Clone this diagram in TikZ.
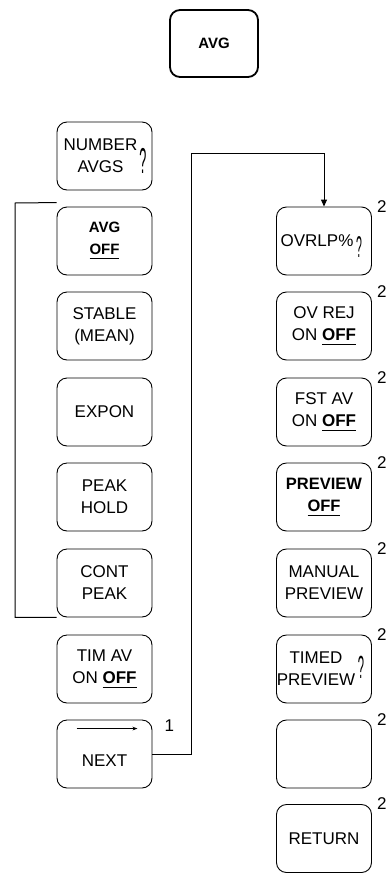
\documentclass[tikz,border=0pt]{standalone}
\usepackage{fontspec}
\usepackage{graphicx}
\setmainfont{Liberation Sans}
\usetikzlibrary{arrows.meta}

% underlined setting on a softkey
\newsavebox{\offbox}
\newcommand{\selected}[1]{\sbox{\offbox}{#1}\rlap{\usebox{\offbox}}\rule[-4.5pt]{\wd\offbox}{1.3pt}}
% hand drawn question mark
\newcommand{\tallq}[1]{\scalebox{0.35}[1]{\fontsize{#1}{#1}\selectfont ?}}

\tikzset{
	softkey/.style={draw, line width=0.9pt, rounded corners=10pt, minimum width=95pt, minimum height=68pt,
		align=center, inner sep=0pt, font=\fontsize{17}{22}\selectfont},
	boldkey/.style={softkey, font=\bfseries\fontsize{15}{22}\selectfont},
	keynote/.style={anchor=west, inner sep=0pt, font=\fontsize{17}{17}\selectfont},
	hookq/.style={inner sep=0pt},
}

\begin{document}
\begin{tikzpicture}[x=1pt, y=-1pt]
		\useasboundingbox (0,0) rectangle (388,873);

		% Hardkey
		\node[draw, line width=1.8pt, rounded corners=10pt, minimum width=88pt, minimum height=67pt,
			font=\bfseries\fontsize{15}{15}\selectfont] (avg) at (214,43.5) {AVG};

		% First menu
		\node[softkey] (number) at (104.5,156) {NUMBER\hspace*{8pt}\\AVGS\hspace*{8pt}};
		\node[boldkey] (avgoff) at (104.5,241) {AVG\\\selected{OFF}};
		\node[softkey] (stable) at (104.5,326) {STABLE\\(MEAN)};
		\node[softkey] (expon) at (104.5,412) {EXPON};
		\node[softkey] (peak) at (104.5,497) {PEAK\\HOLD};
		\node[softkey] (cont) at (104.5,583) {CONT\\PEAK};
		\node[softkey] (timav) at (104.5,669) {TIM AV\\ON \selected{\textbf{OFF}}};
		\node[softkey] (next) at (104.5,754) {};
		\node[inner sep=0pt, font=\fontsize{17}{22}\selectfont] (nexttext) at ([yshift=-7pt]next.center) {NEXT};
		\draw[line width=0.8pt, -{Stealth[length=5pt]}] ([xshift=20pt,yshift=-9pt]next.north west) -- ([xshift=-15pt,yshift=-9pt]next.north east);
		\node[keynote] (one) at ([xshift=12pt,yshift=-6pt]next.north east) {1};

		% Second menu
		\node[softkey] (ovrlp) at (324,241) {OVRLP\%\hspace*{14pt}};
		\node[softkey] (ovrej) at (324,326) {OV REJ\\ON \selected{\textbf{OFF}}};
		\node[softkey] (fstav) at (324,412) {FST AV\\ON \selected{\textbf{OFF}}};
		\node[boldkey, font=\bfseries\fontsize{16.5}{22}\selectfont] (preview) at (324,497) {PREVIEW\\\selected{OFF}};
		\node[softkey] (manual) at (324,583) {MANUAL\\PREVIEW};
		\node[softkey] (timed) at (324,669) {TIMED\hspace*{16pt}\\PREVIEW\hspace*{16pt}};
		\node[softkey] (blank) at (324,754) {};
		\node[softkey] (ret) at (324,838.5) {RETURN};

		% Question marks for numeric entry
		\node[hookq] (qnumber) at (143,161) {\tallq{36}};
		\node[hookq] (qovrlp) at (359,247) {\tallq{30}};
		\node[hookq] (qtimed) at (361,667) {\tallq{32}};

		% Footnote marks
		\foreach \k in {ovrlp,ovrej,fstav,preview,manual,timed,blank,ret}
			\node[keynote] (two\k) at ([xshift=5pt]\k.north east) {2};

		% Bracket round the averaging types
		\coordinate (brtop) at (15,203);
		\draw[line width=1pt] ([yshift=4pt]avgoff.north west) -- (brtop) |- (cont.south west);

		% NEXT leads to the second menu
		\coordinate (turn) at (191,153);
		\draw[line width=1pt, -{Triangle[width=6pt,length=7pt]}] (next.east) -| (turn) -| (ovrlp.north);
	\end{tikzpicture}
\end{document}
